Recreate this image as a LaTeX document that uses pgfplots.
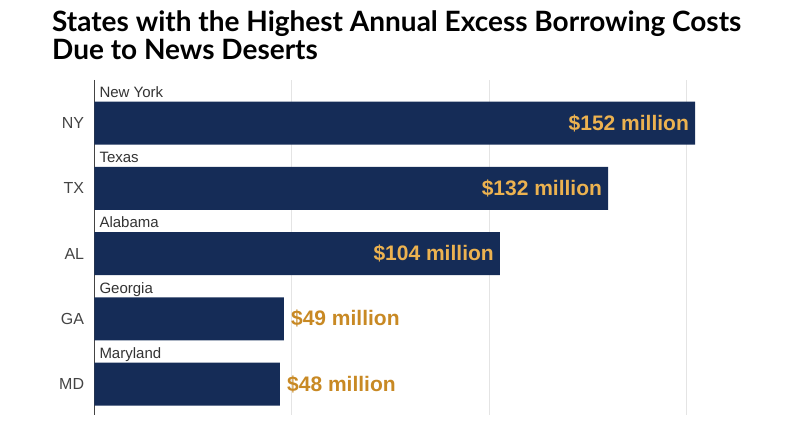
\documentclass[border=0pt]{standalone}
\usepackage{pgfplots}
\pgfplotsset{compat=1.18}
\usepackage{fontspec}
\setmainfont{Liberation Sans}
\newfontfamily\titlefont{Lato}
\definecolor{barblue}{RGB}{21,44,87}
\definecolor{inlab}{RGB}{236,178,80}
\definecolor{outlab}{RGB}{200,137,36}
\definecolor{gridc}{RGB}{228,228,228}
\definecolor{ticktxt}{RGB}{68,68,68}
\definecolor{nametxt}{RGB}{51,51,51}
\begin{document}
\begin{tikzpicture}
\path[use as bounding box] (0pt,0pt) rectangle (800pt,447pt);
\node[anchor=base west, inner sep=0pt, font=\titlefont\bfseries\fontsize{28}{30}\selectfont] at (52pt,415pt) {States with the Highest Annual Excess Borrowing Costs};
\node[anchor=base west, inner sep=0pt, font=\titlefont\bfseries\fontsize{28}{30}\selectfont] at (52pt,387pt) {Due to News Deserts};
\begin{axis}[
  at={(94.3pt,32pt)}, anchor=south west,
  scale only axis, width=691.25pt, height=335pt,
  xmin=0, xmax=175, ymin=-0.66, ymax=4.475, y dir=reverse,
  separate axis lines,
  axis x line*=bottom, axis y line*=left,
  x axis line style={draw=none},
  y axis line style={draw=ticktxt, line width=0.8pt, -},
  xtick={50,100,150}, xticklabels={},
  xmajorgrids, grid style={gridc, line width=1pt},
  ytick={0,1,2,3,4}, yticklabels={NY,TX,AL,GA,MD},
  yticklabel style={font=\fontsize{16}{16}\selectfont, text=ticktxt, inner sep=0pt, xshift=-10pt},
  major tick length=0pt,
  tick style={draw=none},
  clip=false,
]
\addplot[xbar, bar width=43pt, bar shift=0pt, fill=barblue, draw=none,
  point meta=explicit symbolic, nodes near coords,
  nodes near coords style={anchor=east, inner sep=0pt, xshift=-6pt, text=inlab, font=\bfseries\fontsize{21}{21}\selectfont}]
  coordinates {(152.1,0) [{\$152 million}] (130.1,1) [{\$132 million}] (102.7,2) [{\$104 million}]};
\addplot[xbar, bar width=43pt, bar shift=0pt, fill=barblue, draw=none,
  point meta=explicit symbolic, nodes near coords,
  nodes near coords style={anchor=west, inner sep=0pt, xshift=7pt, text=outlab, font=\bfseries\fontsize{21}{21}\selectfont}]
  coordinates {(48.0,3) [{\$49 million}] (47.0,4) [{\$48 million}]};
\addplot[draw=none, mark=none, point meta=explicit symbolic, nodes near coords,
  nodes near coords style={anchor=base west, inner sep=0pt, xshift=5pt, text=nametxt, font=\fontsize{15}{15}\selectfont}]
  coordinates {(0,-0.395) [New York] (0,0.605) [Texas] (0,1.605) [Alabama] (0,2.605) [Georgia] (0,3.605) [Maryland]};
\end{axis}
\end{tikzpicture}
\end{document}
